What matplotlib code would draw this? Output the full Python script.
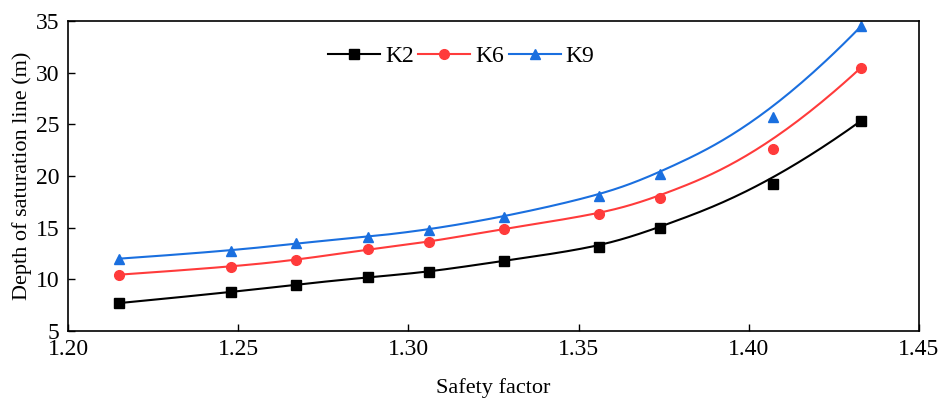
import numpy as np
import matplotlib
matplotlib.use('Agg')
import matplotlib.pyplot as plt

# data
safety = [1.215, 1.248, 1.267, 1.288, 1.306, 1.328, 1.356, 1.374, 1.407, 1.433]
k2 = [7.7, 8.75, 9.5, 10.2, 10.7, 11.8, 13.1, 15.0, 19.2, 25.35]
k6 = [10.45, 11.2, 11.85, 12.9, 13.6, 14.9, 16.3, 17.9, 22.6, 30.5]
k9 = [12.0, 12.75, 13.5, 14.1, 14.8, 16.05, 18.1, 20.2, 25.7, 34.5]

names = ['K2', 'K6', 'K9']
colors = ['black', '#FF3B3B', '#1A6FDF']
markers = ['s', 'o', '^']


def bspline(px, py, n=400, k=3):
    # clamped cubic B-spline using data points as control points (Origin-like smoothing)
    px = np.asarray(px, float)
    py = np.asarray(py, float)
    m = len(px)
    knots = np.concatenate([np.zeros(k), np.linspace(0, 1, m - k + 1), np.ones(k)])
    t = np.linspace(0, 1, n)
    t[-1] = 1 - 1e-12

    def basis(i, p, u):
        if p == 0:
            return ((knots[i] <= u) & (u < knots[i + 1])).astype(float)
        out = np.zeros_like(u)
        d1 = knots[i + p] - knots[i]
        if d1 > 0:
            out += (u - knots[i]) / d1 * basis(i, p - 1, u)
        d2 = knots[i + p + 1] - knots[i + 1]
        if d2 > 0:
            out += (knots[i + p + 1] - u) / d2 * basis(i + 1, p - 1, u)
        return out

    B = np.array([basis(i, k, t) for i in range(m)])
    return B.T @ px, B.T @ py


plt.rcParams['font.family'] = ['Liberation Serif', 'DejaVu Serif']
plt.rcParams['font.size'] = 17

fig = plt.figure(figsize=(9.39, 4.01), dpi=100)
ax = fig.add_axes([68 / 939, 70 / 401, (919 - 68) / 939, (331 - 21) / 401])

for ys, name, c, mk in zip([k2, k6, k9], names, colors, markers):
    sx, sy = bspline(safety, ys)
    ax.plot(sx, sy, color=c, lw=1.5)
    ax.plot(safety, ys, linestyle='none', marker=mk, color=c, ms=7)
    ax.plot([], [], color=c, lw=1.5, marker=mk, ms=7, label=name)

ax.set_xlim(1.20, 1.45)
ax.set_ylim(5, 35)
ax.set_xticks(np.arange(1.20, 1.451, 0.05))
ax.set_xticklabels(['1.20', '1.25', '1.30', '1.35', '1.40', '1.45'])
ax.set_yticks(range(5, 36, 5))
ax.tick_params(direction='in', length=5, width=1, labelsize=17, pad=6)
for s in ax.spines.values():
    s.set_linewidth(1.2)

ax.set_xlabel('Safety factor', fontsize=16, labelpad=13)
ax.set_ylabel('Depth of saturation line (m)', fontsize=16, labelpad=3)

ax.legend(loc='center', bbox_to_anchor=(0.462, 0.885), ncol=3, frameon=False,
          handlelength=2.2, columnspacing=0.2, handletextpad=0.2, fontsize=17)

fig.savefig('out.png', dpi=100)
